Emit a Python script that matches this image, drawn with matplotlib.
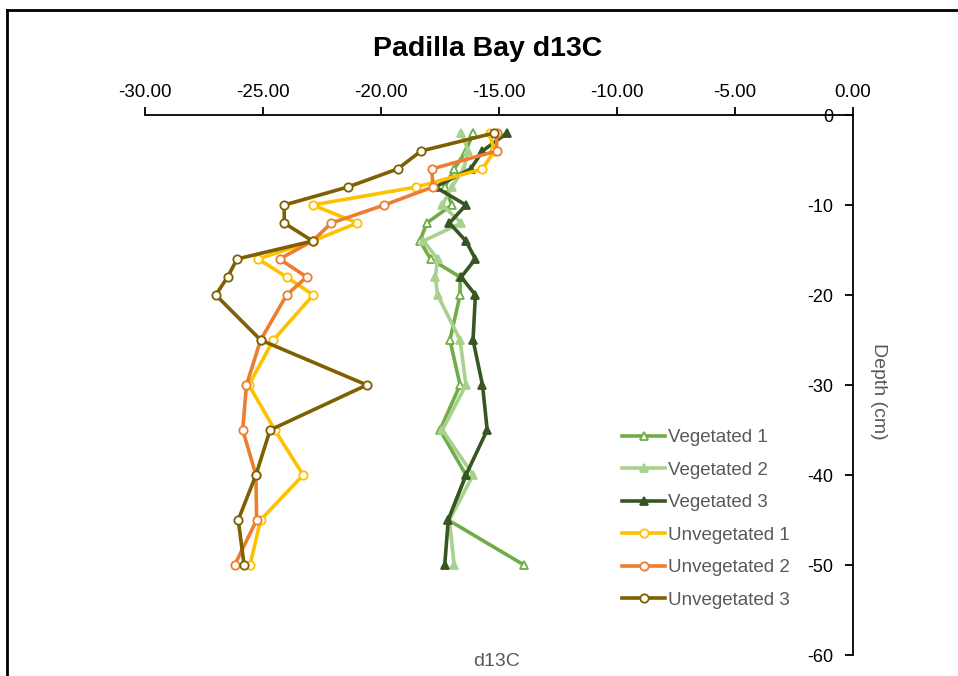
import matplotlib.pyplot as plt
from matplotlib.lines import Line2D
from matplotlib.ticker import FormatStrFormatter, MultipleLocator

plt.rcParams['font.family'] = ['Liberation Sans', 'DejaVu Sans']
plt.rcParams['axes.unicode_minus'] = False

# profundidades (cm, negativas) y valores d13C
depth = [-2, -4, -6, -8, -10, -12, -14, -16, -18, -20, -25, -30, -35, -40, -45, -50]

veg1 = [-16.1, -16.4, -16.9, -17.3, -17.0, -18.06, -18.35, -17.9, -16.65, -16.65,
        -17.08, -16.65, -17.5, -16.4, -17.15, -13.94]
veg2 = [-16.6, -16.3, -16.5, -17.0, -17.4, -16.6, -18.2, -17.6, -17.7, -17.6,
        -16.65, -16.4, -17.4, -16.1, -17.1, -16.9]
veg3 = [-14.66, -15.7, -16.2, -17.7, -16.4, -17.1, -16.4, -16.0, -16.6, -16.0,
        -16.1, -15.7, -15.5, -16.4, -17.15, -17.3]
unveg1 = [-15.4, -15.2, -15.7, -18.5, -22.9, -21.0, -22.9, -25.2, -24.0, -22.87,
          -24.56, -25.6, -24.5, -23.3, -25.1, -25.55]
unveg2 = [-15.1, -15.1, -17.85, -17.8, -19.86, -22.1, -22.9, -24.3, -23.15, -24.0,
          -25.1, -25.7, -25.86, -25.3, -25.27, -26.2]
unveg3 = [-15.2, -18.3, -19.3, -21.4, -24.1, -24.1, -22.9, -26.1, -26.5, -27.0,
          -25.1, -20.6, -24.7, -25.3, -26.05, -25.8]

series = [
    ('Vegetated 1', veg1, '#70AD47', '^', 'white'),
    ('Vegetated 2', veg2, '#A9D18E', '^', '#A9D18E'),
    ('Vegetated 3', veg3, '#375623', '^', '#375623'),
    ('Unvegetated 1', unveg1, '#FFC000', 'o', 'white'),
    ('Unvegetated 2', unveg2, '#ED7D31', 'o', 'white'),
    ('Unvegetated 3', unveg3, '#7F6000', 'o', 'white'),
]

fig = plt.figure(figsize=(9.58, 6.76), dpi=100)
ax = fig.add_axes([145 / 958, 1 - 655 / 676, 708 / 958, 540 / 676])

for label, vals, color, marker, face in series:
    ax.plot(vals, depth, color=color, lw=2.6, marker=marker, ms=6,
            markerfacecolor=face, markeredgecolor=color, markeredgewidth=1.3,
            label=label, clip_on=False)

ax.set_xlim(-30, 0)
ax.set_ylim(-60, 0)

# ejes estilo Excel: X arriba, Y cruzando en x=0
ax.spines['right'].set_visible(False)
ax.spines['bottom'].set_visible(False)
ax.spines['left'].set_position(('data', 0))
ax.spines['top'].set_linewidth(1.3)
ax.spines['left'].set_linewidth(1.3)
ax.xaxis.tick_top()
ax.xaxis.set_major_locator(MultipleLocator(5))
ax.xaxis.set_major_formatter(FormatStrFormatter('%.2f'))
ax.yaxis.set_major_locator(MultipleLocator(10))
ax.tick_params(axis='x', direction='out', length=6, width=1.3, labelsize=13.5, pad=4)
ax.tick_params(axis='y', direction='out', length=6, width=1.3, labelsize=13, pad=8)

fig.text(488 / 958, 1 - 49 / 676, 'Padilla Bay d13C', ha='center', va='center',
         fontsize=20.5, fontweight='bold')
fig.text(497 / 958, 1 - 662 / 676, 'd13C', ha='center', va='center',
         fontsize=14, color='#595959')
fig.text(878 / 958, 1 - 391 / 676, 'Depth (cm)', ha='center', va='center',
         fontsize=14, color='#595959', rotation=270)

leg = ax.legend(loc='upper left', bbox_to_anchor=(622 / 958, 1 - 429 / 676),
                bbox_transform=fig.transFigure, frameon=False, fontsize=13.5,
                borderpad=0, borderaxespad=0, handlelength=2.3, handletextpad=0.15,
                labelspacing=0.82, numpoints=1)
for t in leg.get_texts():
    t.set_color('#595959')

# marco del grafico
fig.add_artist(Line2D([7 / 958, 7 / 958], [0, 1 - 10 / 676], color='black', lw=2))
fig.add_artist(Line2D([7 / 958, 1], [1 - 10 / 676, 1 - 10 / 676], color='black', lw=2))

fig.savefig('out.png', dpi=100)
